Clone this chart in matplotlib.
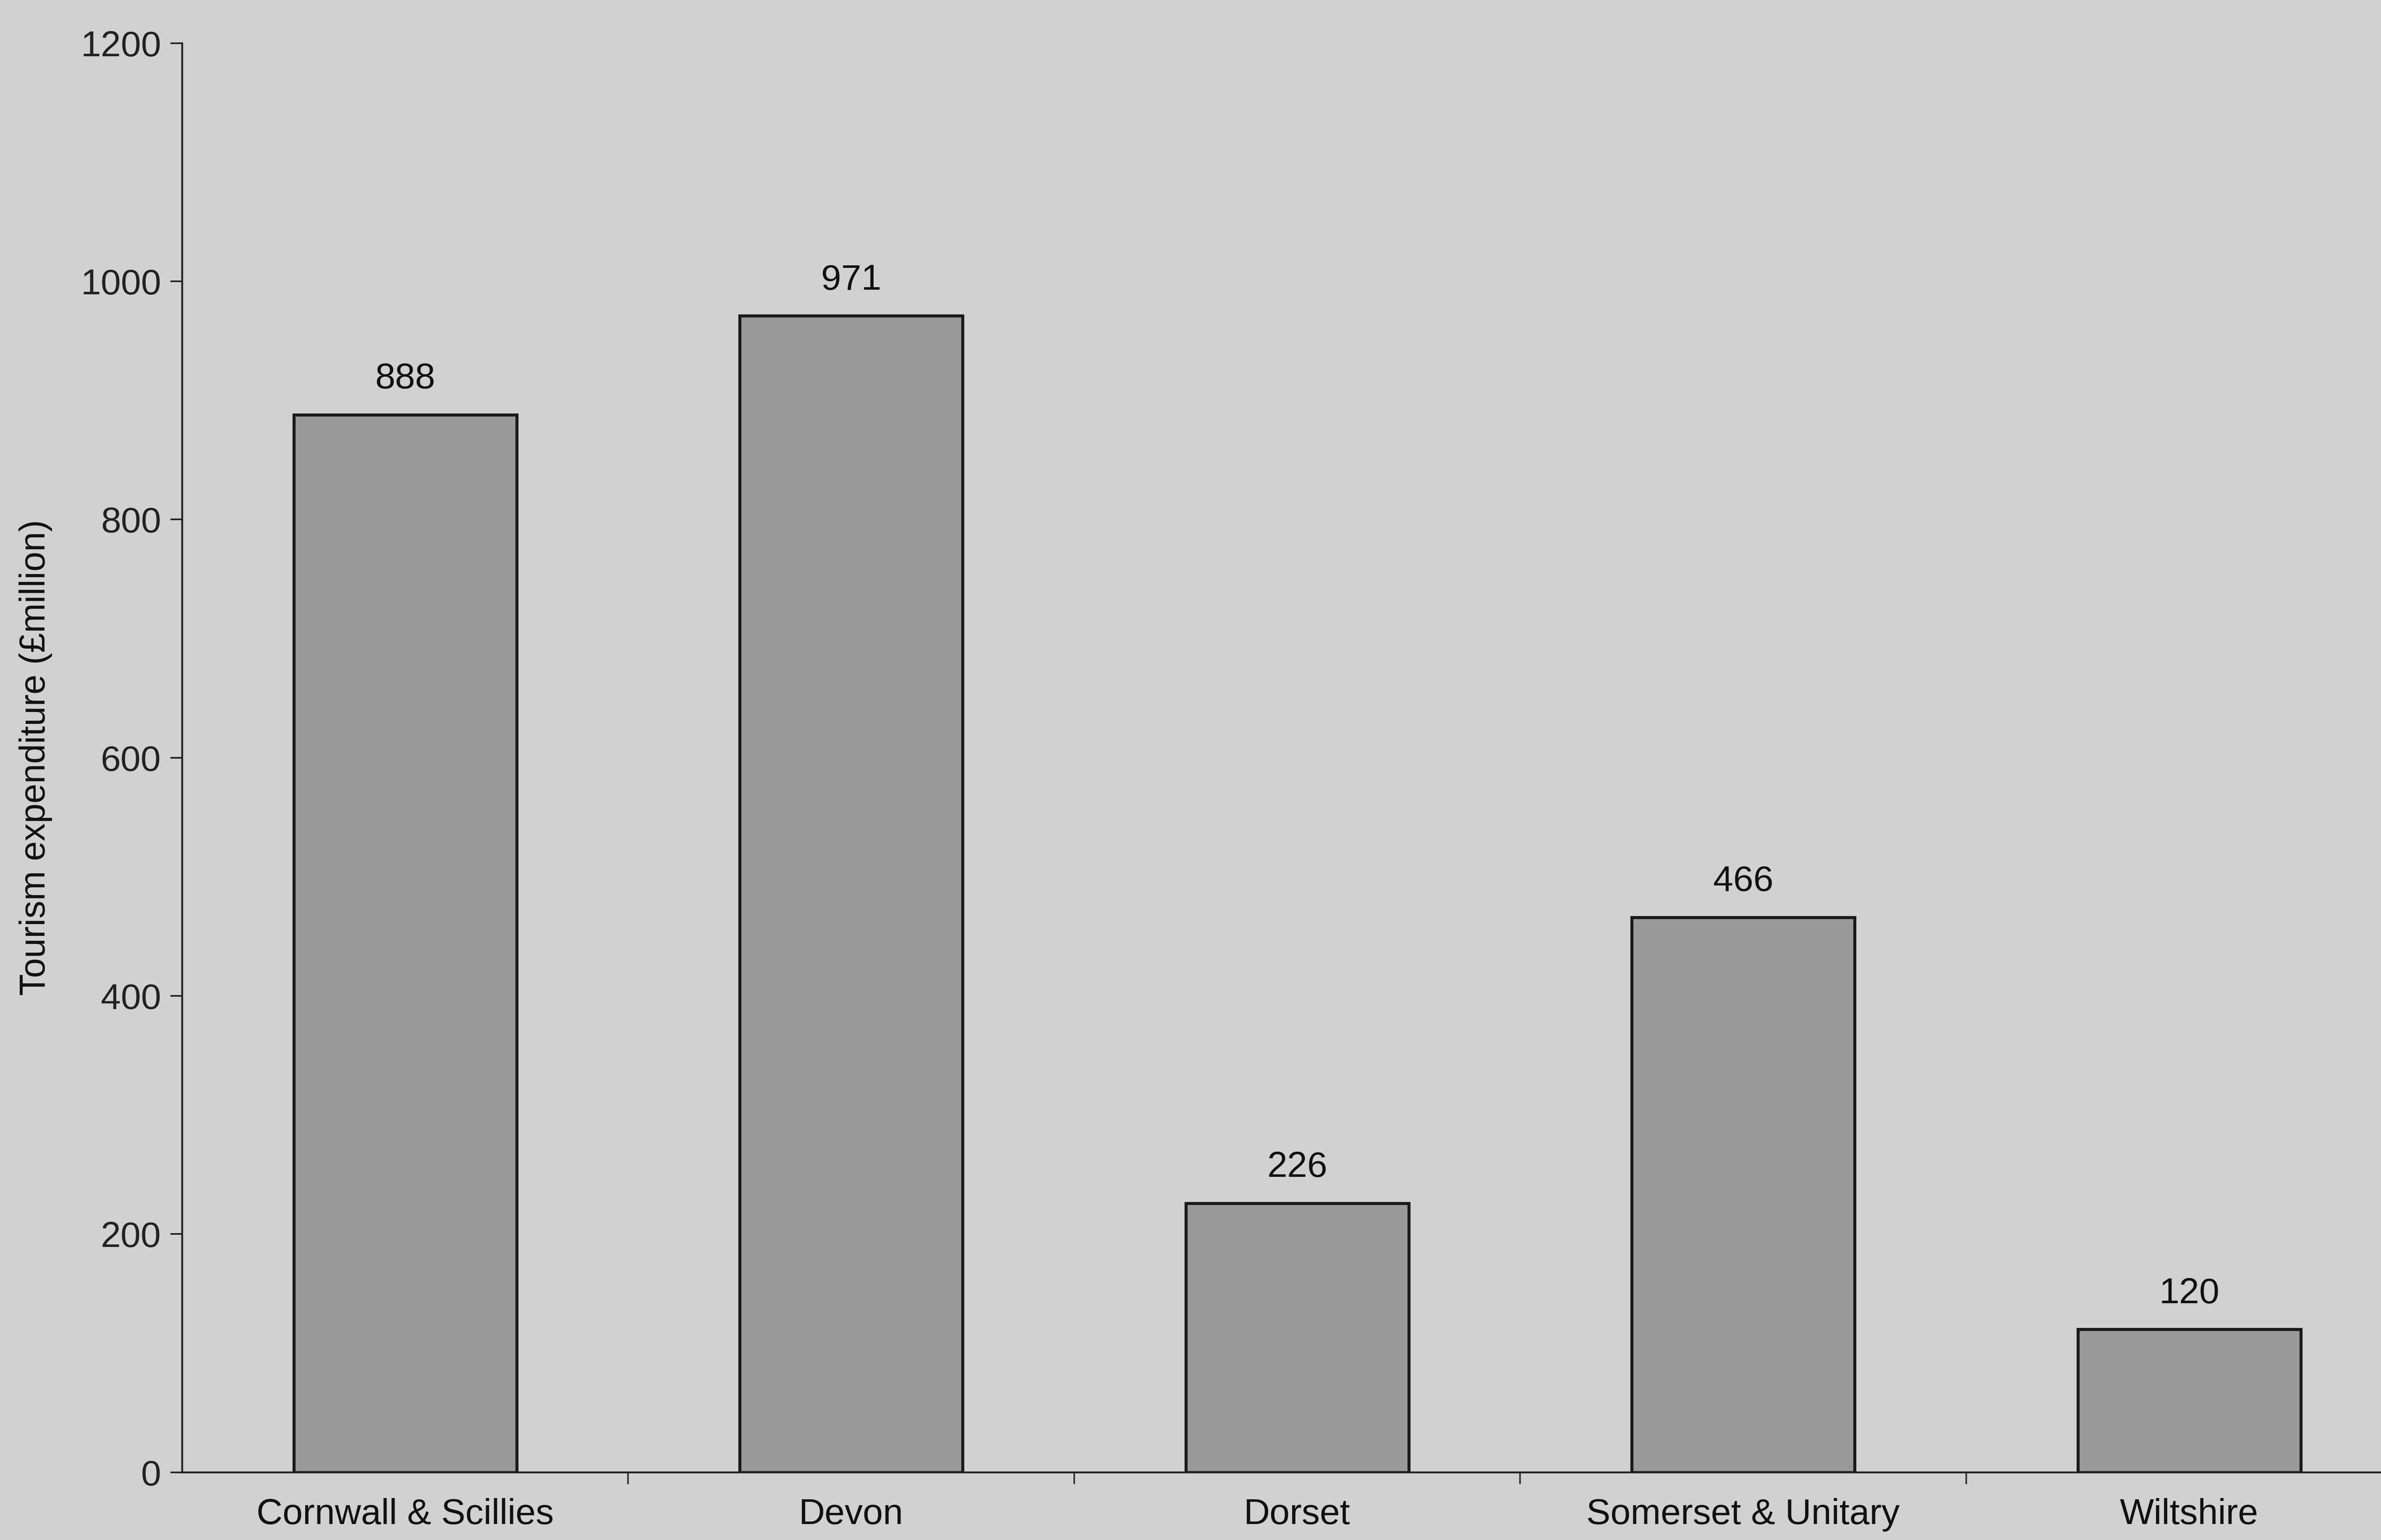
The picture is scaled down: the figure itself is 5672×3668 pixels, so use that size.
import numpy as np
import matplotlib
matplotlib.use("Agg")
import matplotlib.pyplot as plt

# tourism expenditure by county (£million)
regions = ["Cornwall & Scillies", "Devon", "Dorset", "Somerset & Unitary", "Wiltshire"]
spend = [888, 971, 226, 466, 120]
yticks = [0, 200, 400, 600, 800, 1000, 1200]

plt.rcParams['font.family'] = ['Liberation Sans', 'DejaVu Sans']

bg = '#d1d1d1'
fig = plt.figure(figsize=(14.18, 9.17), dpi=400, facecolor=bg)
ax = fig.add_axes([0.0765, 0.044, 0.9235, 0.928], facecolor=bg)

x = np.arange(len(regions))
bars = ax.bar(x, spend, width=0.5, color='#999999', edgecolor='#1a1a1a', linewidth=1.3)

# value labels above bars
for xi, v in zip(x, spend):
    ax.annotate(str(v), (xi, v), xytext=(0, 8), textcoords='offset points',
                ha='center', va='bottom', fontsize=15.5, color='#111111')

ax.set_xlim(-0.5, 4.43)
ax.set_ylim(0, 1200)
ax.set_yticks(yticks)
ax.tick_params(axis='y', direction='out', length=5, width=0.7, labelsize=15.5,
               colors='#222222', pad=4)

ax.set_xticks(x)
ax.set_xticklabels(regions)
ax.tick_params(axis='x', which='major', length=0, labelsize=15.5, pad=11, colors='#111111')
ax.set_xticks(x[:-1] + 0.5, minor=True)
ax.tick_params(axis='x', which='minor', direction='out', length=5, width=0.7, color='#333333')

ax.set_ylabel("Tourism expenditure (£million)", fontsize=15.3, color='#111111', labelpad=12)

for side in ['top', 'right']:
    ax.spines[side].set_visible(False)
for side in ['left', 'bottom']:
    ax.spines[side].set_linewidth(0.8)
    ax.spines[side].set_color('#222222')

fig.savefig("out.png", dpi=400, facecolor=bg)
